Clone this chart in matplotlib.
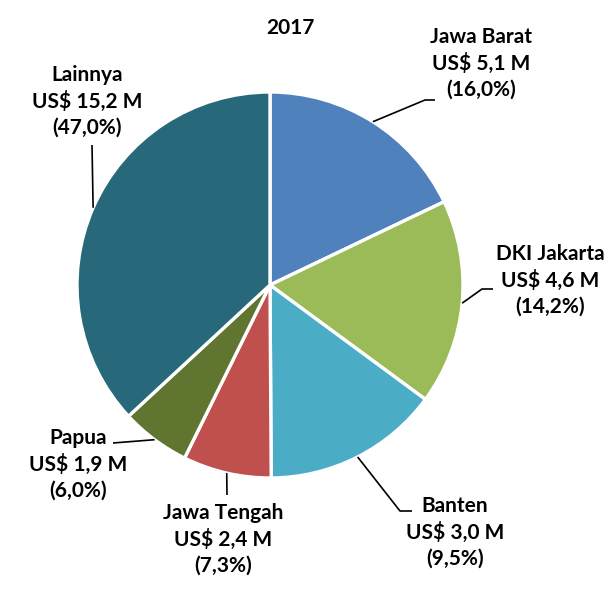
import numpy as np
import matplotlib.pyplot as plt

# ------------------ DATA ------------------
REGIONS = ['Jawa Barat', 'DKI Jakarta', 'Banten', 'Jawa Tengah', 'Papua', 'Lainnya']
VALUE_LABELS = ['US$ 5,1 M', 'US$ 4,6 M', 'US$ 3,0 M', 'US$ 2,4 M', 'US$ 1,9 M', 'US$ 15,2 M']
PCT_LABELS = ['(16,0%)', '(14,2%)', '(9,5%)', '(7,3%)', '(6,0%)', '(47,0%)']
# wedge shares as drawn in the picture
WEDGE_SHARES = [17.9, 17.2, 14.8, 7.4, 5.8, 36.9]
COLORS = ['#4F81BD', '#9BBB59', '#4BACC6', '#C0504D', '#5F7530', '#27697A']
TITLE = '2017'

# ------------------ LAYOUT (pixels, origin top-left) ------------------
W, H = 616, 591
CENTER = (270, 285)
RADIUS = 193
LABEL_POS = [(481, 63), (550, 280), (455, 532), (223, 539), (78, 464), (87, 101)]
ELBOWS = [[(425, 100), (435, 100)], [(482, 289), (493, 289)], [(400, 511), (412, 511)],
          [(227, 495)], [(113, 443)], [(92, 145)]]

FONT = 'Lato'


def fy(y):
    return H - y


fig = plt.figure(figsize=(W / 100, H / 100), dpi=100)
ax = fig.add_axes([0, 0, 1, 1])

wedges, _ = ax.pie(WEDGE_SHARES, colors=COLORS, startangle=90, counterclock=False,
                   center=(CENTER[0], fy(CENTER[1])), radius=RADIUS,
                   wedgeprops=dict(edgecolor='white', linewidth=2.4))

# pie() resets the limits, so set them afterwards
ax.set_xlim(0, W)
ax.set_ylim(0, H)
ax.set_aspect('equal')
ax.axis('off')

for i, w in enumerate(wedges):
    ang = np.deg2rad((w.theta1 + w.theta2) / 2)
    x0 = CENTER[0] + RADIUS * np.cos(ang)
    y0 = fy(CENTER[1]) + RADIUS * np.sin(ang)
    xs = [x0] + [p[0] for p in ELBOWS[i]]
    ys = [y0] + [fy(p[1]) for p in ELBOWS[i]]
    ax.plot(xs, ys, color='black', linewidth=1.2, solid_capstyle='butt')

    lx, ly = LABEL_POS[i]
    ax.text(lx, fy(ly), f"{REGIONS[i]}\n{VALUE_LABELS[i]}\n{PCT_LABELS[i]}",
            ha='center', va='center', fontsize=15, fontweight='bold',
            family=FONT, linespacing=1.35, color='black')

ax.text(290, fy(28), TITLE, ha='center', va='center', fontsize=15,
        fontweight='bold', family=FONT, color='black')

fig.savefig('out.png', dpi=100)
